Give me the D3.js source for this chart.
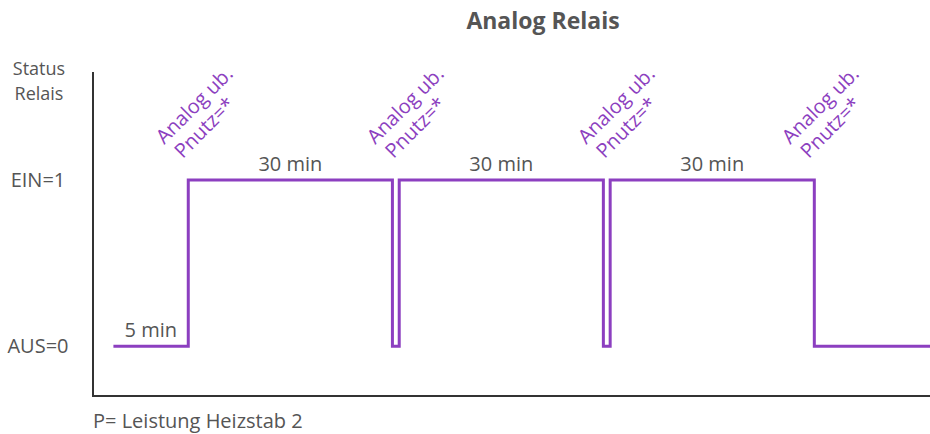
<!DOCTYPE html>
<html>
<head>
<meta charset="utf-8">
<script src="https://cdn.jsdelivr.net/npm/d3@7"></script>
<style>
  body { margin: 0; background: #fff; }
  svg text { font-family: "Open Sans", sans-serif; }
</style>
</head>
<body>
<svg id="chart" width="930" height="434"></svg>
<script>
// ---- data ----
const title = "Analog Relais";
const yTickValues = [0, 1];
const yTickLabels = ["AUS=0", "EIN=1"];
const yAxisTitle = ["Status", "Relais"];
const footer = "P= Leistung Heizstab 2";
// relay state changes (schematic time units)
const stepTimes  = [3, 14, 44, 45, 75, 76, 106, 123];
const stepStates = [0, 1, 0, 1, 0, 1, 0, 0];
// duration labels
const segStart  = [3, 14, 45, 76];
const segEnd    = [14, 44, 75, 106];
const segState  = [0, 1, 1, 1];
const segLabels = ["5 min", "30 min", "30 min", "30 min"];
// rotated annotations
const noteTimes = [14, 45, 76, 106];
const noteLines = ["Analog ub.", "Pnutz=*"];

// ---- layout ----
const svg = d3.select("#chart");
const purple = "#8c3fc0";
const grey = "#555";
const x = d3.scaleLinear().domain([0, 123]).range([93, 930]);
const y = d3.scaleLinear().domain([-0.3, 1.65]).range([396, 72]);

// title
svg.append("text").attr("x", 543).attr("y", 29).attr("text-anchor", "middle")
  .attr("font-size", 23).attr("font-weight", "bold").attr("fill", grey).text(title);

// axes lines
svg.append("path")
  .attr("d", `M${x(0)},${y(1.65)}V${y(-0.3)}H${x(123)}`)
  .attr("fill", "none").attr("stroke", "#333").attr("stroke-width", 2);

// y tick labels
svg.selectAll(".ytick").data(yTickValues).join("text")
  .attr("class", "ytick")
  .attr("x", 38).attr("y", d => y(d)).attr("dy", "0.35em")
  .attr("text-anchor", "middle").attr("font-size", 20).attr("fill", grey)
  .text((d, i) => yTickLabels[i]);

// y axis title (two separate lines)
svg.selectAll(".ytitle").data(yAxisTitle).join("text")
  .attr("class", "ytitle")
  .attr("x", 39).attr("y", (d, i) => 75 + i * 25)
  .attr("text-anchor", "middle").attr("font-size", 18).attr("fill", grey)
  .text(d => d);

// step line
const pts = stepTimes.map((t, i) => [t, stepStates[i]]);
svg.append("path").datum(pts)
  .attr("d", d3.line().x(d => x(d[0])).y(d => y(d[1])).curve(d3.curveStepAfter))
  .attr("fill", "none").attr("stroke", purple).attr("stroke-width", 3);

// segment labels
svg.selectAll(".seg").data(segLabels).join("text")
  .attr("class", "seg")
  .attr("x", (d, i) => (x(segStart[i]) + x(segEnd[i])) / 2)
  .attr("y", (d, i) => y(segState[i]) - 9)
  .attr("text-anchor", "middle").attr("font-size", 20).attr("fill", grey)
  .text(d => d);

// rotated annotations
const notes = svg.selectAll(".note").data(noteTimes).join("text")
  .attr("class", "note")
  .attr("transform", d => `translate(${x(d) - 24},${y(1) - 35}) rotate(-45)`)
  .attr("font-size", 20).attr("fill", purple);
notes.selectAll("tspan").data(noteLines).join("tspan")
  .attr("x", (d, i) => i ? 3 : 0).attr("y", (d, i) => i ? 23 : 0).text(d => d);

// footer
svg.append("text").attr("x", 93).attr("y", 428).attr("font-size", 20)
  .attr("fill", grey).text(footer);
</script>
</body>
</html>
